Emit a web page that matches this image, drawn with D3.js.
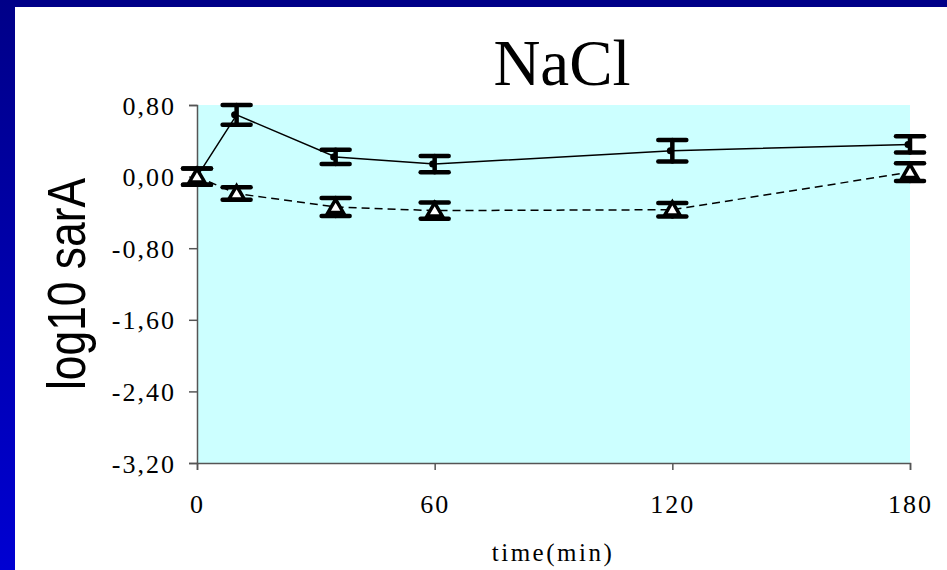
<!DOCTYPE html>
<html><head><meta charset="utf-8">
<script src="https://cdn.jsdelivr.net/npm/d3@7"></script>
<style>html,body{margin:0;padding:0;background:#fff;}svg{display:block;}</style>
</head><body>
<script>
const times = [0, 10, 35, 60, 120, 180];
const series1 = [0.00, 0.69, 0.22, 0.14, 0.29, 0.36];
const err1 = [0.09, 0.11, 0.08, 0.09, 0.12, 0.09];
const series2 = [0.00, -0.19, -0.34, -0.38, -0.37, 0.05];
const err2 = [0.09, 0.07, 0.10, 0.09, 0.075, 0.10];
const yTicks = [0.8, 0, -0.8, -1.6, -2.4, -3.2];
const xTicks = [0, 60, 120, 180];

const W = 947, H = 570;
const svg = d3.select("body").append("svg").attr("width", W).attr("height", H);
const defs = svg.append("defs");
const lg = defs.append("linearGradient").attr("id","lb").attr("x1",0).attr("y1",0).attr("x2",0).attr("y2",1);
lg.append("stop").attr("offset","0%").attr("stop-color","#000088");
lg.append("stop").attr("offset","100%").attr("stop-color","#0000D2");
svg.append("rect").attr("width",W).attr("height",H).attr("fill","#fff");
svg.append("rect").attr("x",0).attr("y",0).attr("width",W).attr("height",7).attr("fill","#000088");
svg.append("rect").attr("x",0).attr("y",0).attr("width",15).attr("height",H).attr("fill","url(#lb)");

const x = d3.scaleLinear().domain([0,180]).range([197,910]);
const y = d3.scaleLinear().domain([-3.2,0.8]).range([463,105]);

svg.append("rect").attr("x",x(0)).attr("y",y(0.8)).attr("width",x(180)-x(0)).attr("height",y(-3.2)-y(0.8)).attr("fill","#CCFFFF");

const fmt = v => d3.format(".2f")(v).replace(".", ",").replace("−","-");
const yAxis = svg.append("g").attr("transform",`translate(${x(0)},0)`)
  .call(d3.axisLeft(y).tickValues(yTicks).tickSize(8).tickPadding(13).tickFormat(fmt));
const xAxis = svg.append("g").attr("transform",`translate(0,${y(-3.2)})`)
  .call(d3.axisBottom(x).tickValues(xTicks).tickSize(7).tickPadding(40).tickFormat(d3.format("d")));
[yAxis, xAxis].forEach(g => {
  g.select(".domain").attr("stroke","#555").attr("stroke-width",1.5);
  g.selectAll(".tick line").attr("stroke","#555").attr("stroke-width",1.5);
  g.selectAll("text").attr("fill","#000").attr("font-family","'Liberation Serif','Times New Roman',serif")
   .attr("font-size",26).attr("letter-spacing","2px");
});
yAxis.selectAll("text").attr("dy","0.35em");
xAxis.selectAll("text").attr("dy","0.1em");

// lines
const line = d3.line().x((d,i)=>x(times[i])).y(d=>y(d));
svg.append("path").datum(series1).attr("d",line).attr("fill","none").attr("stroke","#000").attr("stroke-width",1.5);
svg.append("path").datum(series2).attr("d",line).attr("fill","none").attr("stroke","#000").attr("stroke-width",1.5).attr("stroke-dasharray","8,5");

function errorBars(vals, errs){
  const g = svg.append("g").attr("stroke","#000").attr("stroke-width",4.5).attr("stroke-linecap","round");
  vals.forEach((v,i)=>{
    const cx = x(times[i]);
    g.append("line").attr("x1",cx).attr("x2",cx).attr("y1",y(v+errs[i])).attr("y2",y(v-errs[i]));
    g.append("line").attr("x1",cx-14).attr("x2",cx+14).attr("y1",y(v+errs[i])).attr("y2",y(v+errs[i]));
    g.append("line").attr("x1",cx-14).attr("x2",cx+14).attr("y1",y(v-errs[i])).attr("y2",y(v-errs[i]));
  });
}
errorBars(series1, err1);
errorBars(series2, err2);

// markers
svg.append("g").selectAll("circle").data(series1).join("circle")
  .attr("cx",(d,i)=>x(times[i])-2).attr("cy",d=>y(d)).attr("r",3.5).attr("fill","#000");
const tri = d3.symbol().type(d3.symbolTriangle).size(100);
svg.append("g").selectAll("path").data(series2).join("path")
  .attr("d",tri).attr("transform",(d,i)=>`translate(${x(times[i])},${y(d)+1})`)
  .attr("fill","#fff").attr("stroke","#000").attr("stroke-width",3.5).attr("stroke-linejoin","miter");

// title
svg.append("text").attr("x",562).attr("y",85).attr("text-anchor","middle")
  .attr("font-family","'Liberation Serif','Times New Roman',serif").attr("font-size",65).text("NaCl");
// x label
svg.append("text").attr("x",553).attr("y",561).attr("text-anchor","middle")
  .attr("font-family","'Liberation Serif','Times New Roman',serif").attr("font-size",25)
  .attr("letter-spacing","2.5px").text("time(min)");
// y label
svg.append("text").attr("transform","translate(85,284) rotate(-90)").attr("text-anchor","middle")
  .attr("font-family","'Liberation Sans',Arial,sans-serif").attr("font-size",54)
  .attr("textLength",212).attr("lengthAdjust","spacingAndGlyphs").text("log10 sarA");
</script>
</body></html>
